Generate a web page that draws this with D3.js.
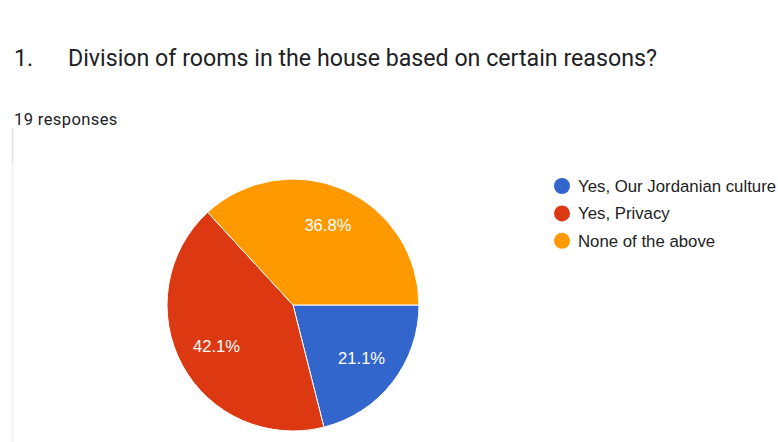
<!DOCTYPE html>
<html>
<head>
<meta charset="utf-8">
<script src="https://cdn.jsdelivr.net/npm/d3@7"></script>
<style>
  html, body { margin: 0; padding: 0; background: #fff; }
  svg { display: block; }
</style>
</head>
<body>
<svg id="chart" width="778" height="442"></svg>
<script>
const categories = ["Yes, Our Jordanian culture", "Yes, Privacy", "None of the above"];
const counts = [4, 8, 7];
const colours = ["#3366cc", "#dc3912", "#ff9900"];
const questionNumber = "1.";
const questionTitle = "Division of rooms in the house based on certain reasons?";
const responsesLabel = "19 responses";

const svg = d3.select("#chart");

// faint card border on the left
svg.append("line")
  .attr("x1", 12.5).attr("x2", 12.5)
  .attr("y1", 128).attr("y2", 442)
  .attr("stroke", "#f0f0f2").attr("stroke-width", 1.5);
svg.append("line")
  .attr("x1", 12.5).attr("x2", 12.5)
  .attr("y1", 128).attr("y2", 163)
  .attr("stroke", "#e2e2e8").attr("stroke-width", 1.5);

// heading
svg.append("text")
  .attr("x", 14).attr("y", 66)
  .attr("font-family", "Roboto, Arial, sans-serif")
  .attr("font-size", 23.2)
  .attr("fill", "#202124")
  .text(questionNumber);
svg.append("text")
  .attr("x", 68).attr("y", 66)
  .attr("font-family", "Roboto, Arial, sans-serif")
  .attr("font-size", 23.2)
  .attr("fill", "#202124")
  .text(questionTitle);
svg.append("text")
  .attr("x", 14).attr("y", 125)
  .attr("font-family", "Roboto, Arial, sans-serif")
  .attr("font-size", 16.5)
  .attr("letter-spacing", 0.4)
  .attr("fill", "#202124")
  .text(responsesLabel);

// pie
const cx = 293, cy = 305, radius = 126;
const total = d3.sum(counts);

const pie = d3.pie()
  .sort(null)
  .startAngle(Math.PI / 2)
  .endAngle(Math.PI / 2 + 2 * Math.PI);

const arc = d3.arc().innerRadius(0).outerRadius(radius);
const labelArc = d3.arc().innerRadius(radius * 0.69).outerRadius(radius * 0.69);

const pieArea = svg.append("g").attr("transform", `translate(${cx},${cy})`);

const slices = pieArea.selectAll(".slice")
  .data(pie(counts))
  .enter().append("g")
  .attr("class", "slice");

slices.append("path")
  .attr("d", arc)
  .attr("fill", (d, i) => colours[i])
  .attr("stroke", "#fff")
  .attr("stroke-width", 1);

slices.append("text")
  .attr("transform", (d) => `translate(${labelArc.centroid(d)})`)
  .attr("text-anchor", "middle")
  .attr("dy", "0.35em")
  .attr("font-family", "Arial, 'Liberation Sans', sans-serif")
  .attr("font-size", 16.6)
  .attr("fill", "#fff")
  .text((d) => d3.format(".1%")(d.data / total));

// legend
const legend = svg.append("g").attr("transform", "translate(562,186)");
const items = legend.selectAll(".item")
  .data(categories)
  .enter().append("g")
  .attr("class", "item")
  .attr("transform", (d, i) => `translate(0,${i * 27.4})`);

items.append("circle")
  .attr("r", 8)
  .attr("fill", (d, i) => colours[i]);

items.append("text")
  .attr("x", 16)
  .attr("dy", "0.35em")
  .attr("font-family", "Arial, 'Liberation Sans', sans-serif")
  .attr("font-size", 16.8)
  .attr("fill", "#222")
  .text((d) => d);
</script>
</body>
</html>
